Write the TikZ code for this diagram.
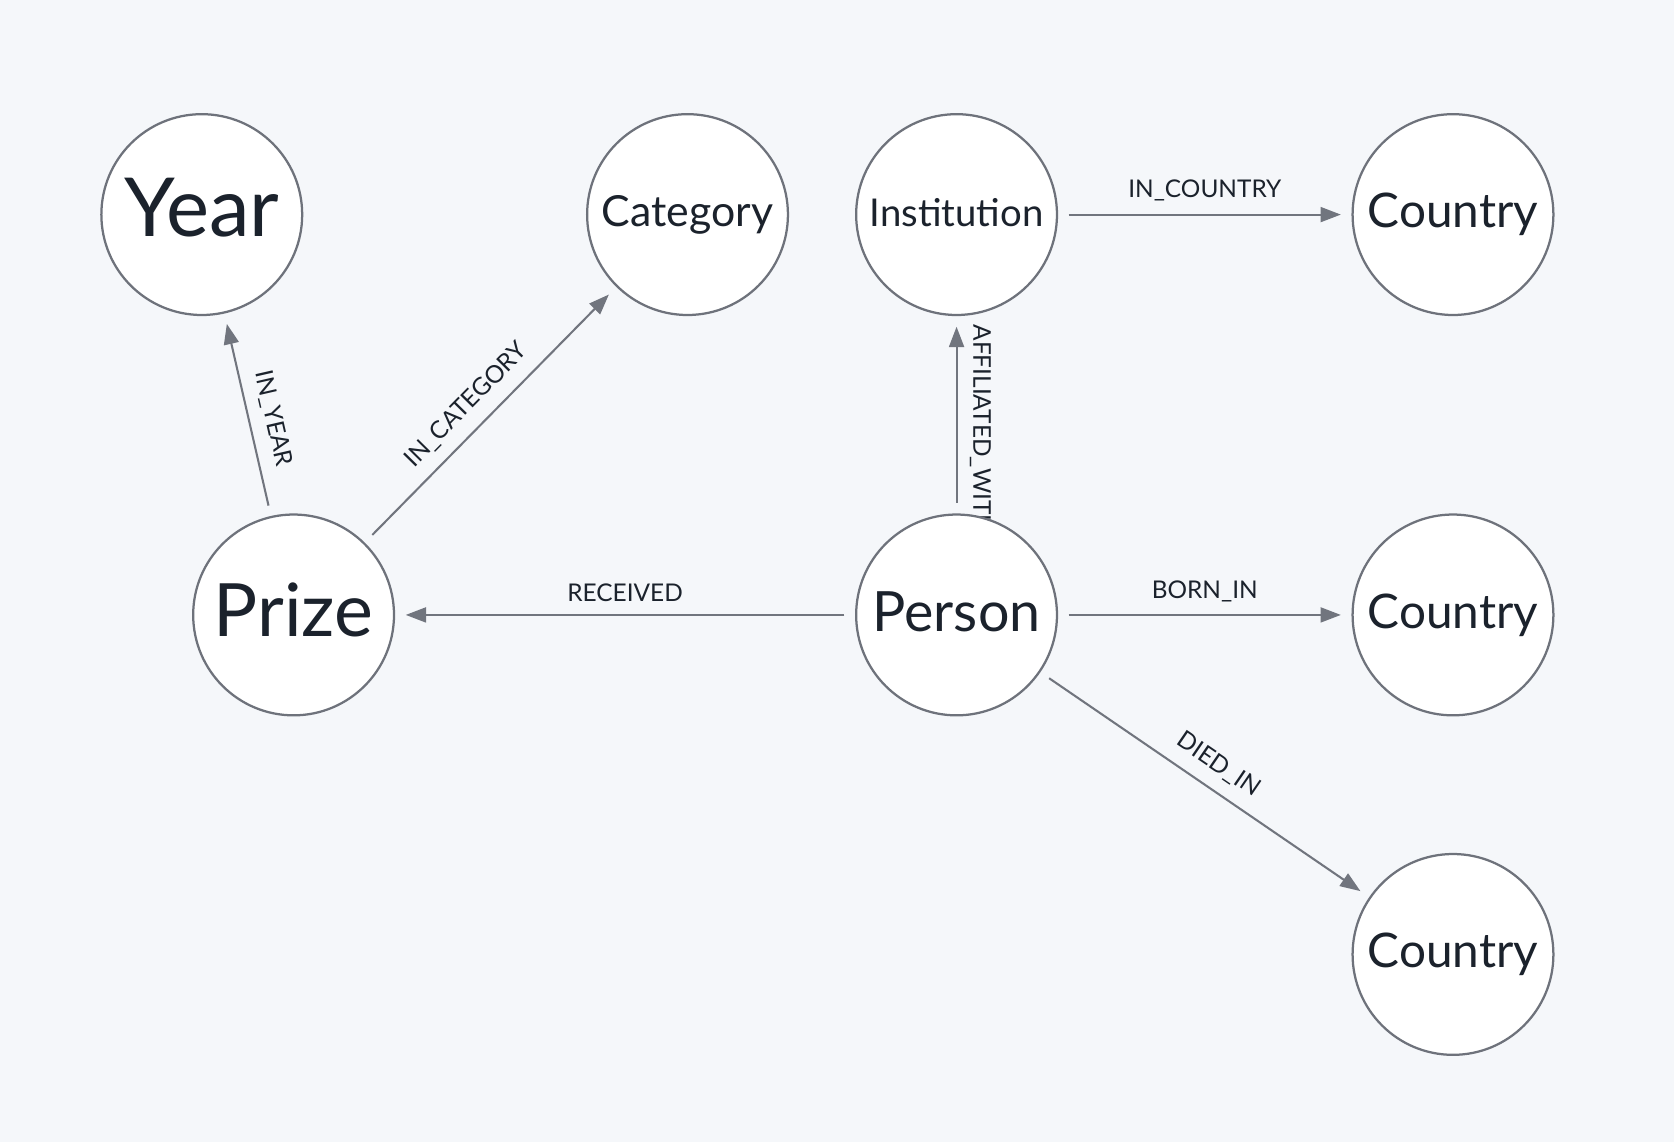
\documentclass[tikz,border=0pt]{standalone}
\usepackage{fontspec}
\setmainfont{Lato}
\usetikzlibrary{arrows.meta,backgrounds}

\definecolor{bgcol}{HTML}{F5F7FA}
\definecolor{ringcol}{HTML}{6E727B}
\definecolor{relcol}{HTML}{71757E}
\definecolor{inkcol}{HTML}{1B222C}

\tikzset{
  entity/.style={circle, draw=ringcol, fill=white, line width=0.6pt,
    minimum size=1.88cm, inner sep=0pt, outer sep=0.11cm, text=inkcol},
  rel/.style={draw=relcol, line width=0.55pt,
    -{Triangle[length=0.19cm,width=0.14cm]}},
  rellabel/.style={font=\fontsize{6.5}{7.5}\selectfont, text=inkcol, inner sep=3.3pt},
}

\begin{document}
\begin{tikzpicture}[x=0.01cm, y=-0.01cm]
  % nodes
  \node[entity, font=\fontsize{21.7}{24}\selectfont, text depth=4pt] (year) at (189,201) {Year};
  \node[entity, font=\fontsize{11.4}{13}\selectfont] (category) at (644,201) {Category};
  \node[entity, font=\fontsize{10.2}{12}\selectfont, text depth=1pt] (institution) at (896,201) {Institution};
  \node[entity, font=\fontsize{12.7}{15}\selectfont] (country1) at (1361,201) {Country};
  \node[entity, font=\fontsize{19.6}{22}\selectfont, text depth=3pt] (prize) at (275,576) {Prize};
  \node[entity, font=\fontsize{14.8}{17}\selectfont, text depth=2pt] (person) at (896,576) {Person};
  \node[entity, font=\fontsize{12.7}{15}\selectfont] (country2) at (1361,576) {Country};
  \node[entity, font=\fontsize{12.7}{15}\selectfont] (country3) at (1361,894) {Country};

  % relationships (behind the circles)
  \begin{scope}[on background layer]
    \fill[bgcol] (0,0) rectangle (1568,1070);
    \draw[rel] (prize) -- (year)
      node[rellabel, pos=0.45, rotate=-77.1, above] {IN\_YEAR};
    \draw[rel] (prize) -- (category)
      node[rellabel, pos=0.47, rotate=45.5, above] {IN\_CATEGORY};
    \draw[rel] (person) -- (prize)
      node[rellabel, midway, above] {RECEIVED};
    \draw[rel] (person) -- (institution)
      node[rellabel, pos=0.42, rotate=-90, above] {AFFILIATED\_WITH};
    \draw[rel] (institution) -- (country1)
      node[rellabel, midway, above] {IN\_COUNTRY};
    \draw[rel] (person) -- (country2)
      node[rellabel, midway, above] {BORN\_IN};
    \draw[rel] (person) -- (country3)
      node[rellabel, midway, rotate=-34.4, above] {DIED\_IN};
  \end{scope}
\end{tikzpicture}
\end{document}
